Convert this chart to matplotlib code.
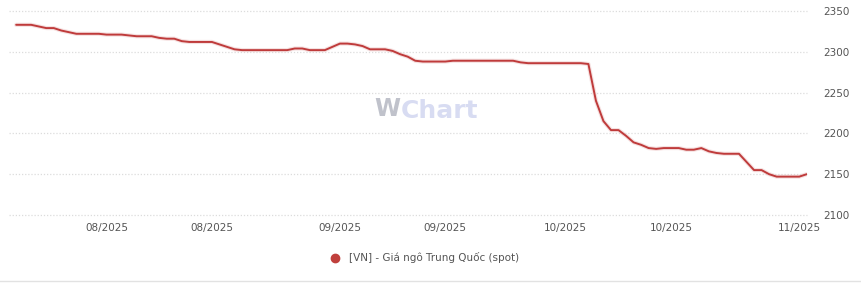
import datetime as dt

import matplotlib
matplotlib.use("Agg")
import matplotlib.pyplot as plt
import matplotlib.dates as mdates
from matplotlib.lines import Line2D

# Daily values, starting 2025-07-20
start_date = dt.date(2025, 7, 20)
prices = [
    2333, 2333, 2333, 2331, 2329, 2329, 2326, 2324, 2322, 2322,
    2322, 2322, 2321, 2321, 2321, 2320, 2319, 2319, 2319, 2317,
    2316, 2316, 2313, 2312, 2312, 2312, 2312, 2309, 2306, 2303,
    2302, 2302, 2302, 2302, 2302, 2302, 2302, 2304, 2304, 2302,
    2302, 2302, 2306, 2310, 2310, 2309, 2307, 2303, 2303, 2303,
    2301, 2297, 2294, 2289, 2288, 2288, 2288, 2288, 2289, 2289,
    2289, 2289, 2289, 2289, 2289, 2289, 2289, 2287, 2286, 2286,
    2286, 2286, 2286, 2286, 2286, 2286, 2285, 2240, 2215, 2204,
    2204, 2197, 2189, 2186, 2182, 2181, 2182, 2182, 2182, 2180,
    2180, 2182, 2178, 2176, 2175, 2175, 2175, 2165, 2155, 2155,
    2150, 2147, 2147, 2147, 2147, 2150,
]
dates = [start_date + dt.timedelta(days=i) for i in range(len(prices))]

tick_dates = [
    dt.date(2025, 8, 1), dt.date(2025, 8, 15), dt.date(2025, 9, 1),
    dt.date(2025, 9, 15), dt.date(2025, 10, 1), dt.date(2025, 10, 15),
    dt.date(2025, 11, 1),
]
y_ticks = [2100, 2150, 2200, 2250, 2300, 2350]
series_name = "[VN] - Giá ngô Trung Quốc (spot)"

line_color = "#bf3b3b"
text_color = "#555555"

fig = plt.figure(figsize=(8.61, 2.85), dpi=100)
ax = fig.add_axes([0.010, 0.2456, 0.927, 0.716])

# soft shadow under the line, then the line itself
ax.plot(dates, prices, color="#ecc4c4", linewidth=3.0, alpha=0.5,
        solid_capstyle="round", zorder=2)
ax.plot(dates, prices, color=line_color, linewidth=1.4,
        solid_capstyle="round", solid_joinstyle="round", zorder=3)

ax.set_ylim(2100, 2350)
ax.set_xlim(dt.date(2025, 7, 19), dt.date(2025, 11, 2))
ax.set_yticks(y_ticks)
ax.yaxis.tick_right()
ax.set_xticks(tick_dates)
ax.xaxis.set_major_formatter(mdates.DateFormatter("%m/%Y"))
ax.tick_params(axis="both", length=0, labelsize=7.5, labelcolor=text_color)
ax.tick_params(axis="y", pad=12)
ax.tick_params(axis="x", pad=6)

ax.grid(True, axis="y", color="#dcdcdc", linestyle=(0, (1, 1.5)), linewidth=0.9)
ax.set_axisbelow(True)
for gl in ax.get_ygridlines():
    gl.set_clip_on(False)
for s in ax.spines.values():
    s.set_visible(False)

# watermark
fig.text(0.435, 0.618, "W", fontsize=17, fontweight="bold", color="#b9bcc6",
         ha="left", va="center", alpha=0.9)
fig.text(0.465, 0.612, "Chart", fontsize=18, fontweight="bold",
         color="#d8dcf2", ha="left", va="center")

handle = Line2D([], [], linestyle="none", marker="o", markersize=6,
                color="#c0403c")
fig.legend([handle], [series_name], loc="center", bbox_to_anchor=(0.49, 0.095),
           frameon=False, fontsize=7.5, labelcolor=text_color,
           handletextpad=0.3, borderaxespad=0)

# thin separator at the bottom edge
fig.add_artist(Line2D([0.0, 1.0], [0.015, 0.015], color="#e2e2e2", linewidth=1))

fig.savefig("out.png", dpi=100)
